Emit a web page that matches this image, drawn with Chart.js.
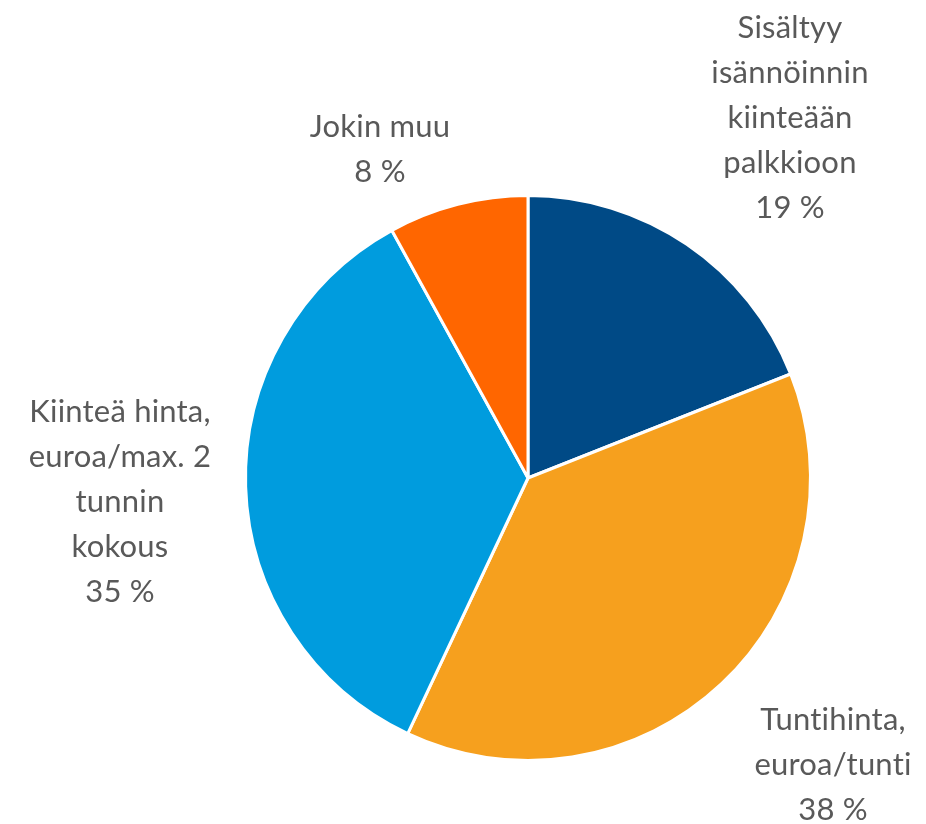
<!DOCTYPE html>
<html>
<head>
<meta charset="utf-8">
<script src="https://cdn.jsdelivr.net/npm/chart.js@4"></script>
<style>
  html, body { margin: 0; padding: 0; background: #fff; }
  #wrap { width: 926px; height: 824px; }
</style>
</head>
<body>
<div id="wrap"><canvas id="myChart" width="926" height="824"></canvas></div>
<script>
const categories = [
  ["Sisältyy", "isännöinnin", "kiinteään", "palkkioon"],
  ["Tuntihinta,", "euroa/tunti"],
  ["Kiinteä hinta,", "euroa/max. 2", "tunnin", "kokous"],
  ["Jokin muu"],
];
const shares = [19, 38, 35, 8];
const sliceColors = ["#004A86", "#F6A01E", "#009CDE", "#FF6600"];

// where each label block sits, relative to the pie centre (x, middle line)
const labelOffsets = [[262, -350], [305, 297], [-408, 34], [-148, -319]];

const ctx = document.getElementById("myChart").getContext("2d");

const outsideLabels = {
  id: "outsideLabels",
  afterDraw(chart) {
    const c = chart.ctx;
    const arc = chart.getDatasetMeta(0).data[0];
    c.save();
    c.font = "31px Lato";
    c.letterSpacing = "0.2px"; // keeps Lato from joining "ti"
    c.fillStyle = "#595959";
    c.textAlign = "center";
    c.textBaseline = "alphabetic";
    const lh = 45;
    chart.data.labels.forEach((lab, i) => {
      const lines = lab.concat([shares[i] + " %"]);
      const x = arc.x + labelOffsets[i][0];
      const midY = arc.y + labelOffsets[i][1];
      const top = midY - (lines.length - 1) * lh / 2;
      lines.forEach((t, j) => c.fillText(t, x, top + j * lh));
    });
    c.restore();
  },
};

const myChart = new Chart(ctx, {
  type: "pie",
  data: {
    labels: categories,
    datasets: [
      {
        data: shares,
        backgroundColor: sliceColors,
        borderColor: "#ffffff",
        borderWidth: 3,
      },
    ],
  },
  options: {
    responsive: false,
    animation: false,
    layout: { padding: { left: 244, right: 114, top: 194, bottom: 62 } },
    plugins: {
      legend: { display: false },
      tooltip: { enabled: false },
    },
  },
  plugins: [outsideLabels],
});
</script>
</body>
</html>
